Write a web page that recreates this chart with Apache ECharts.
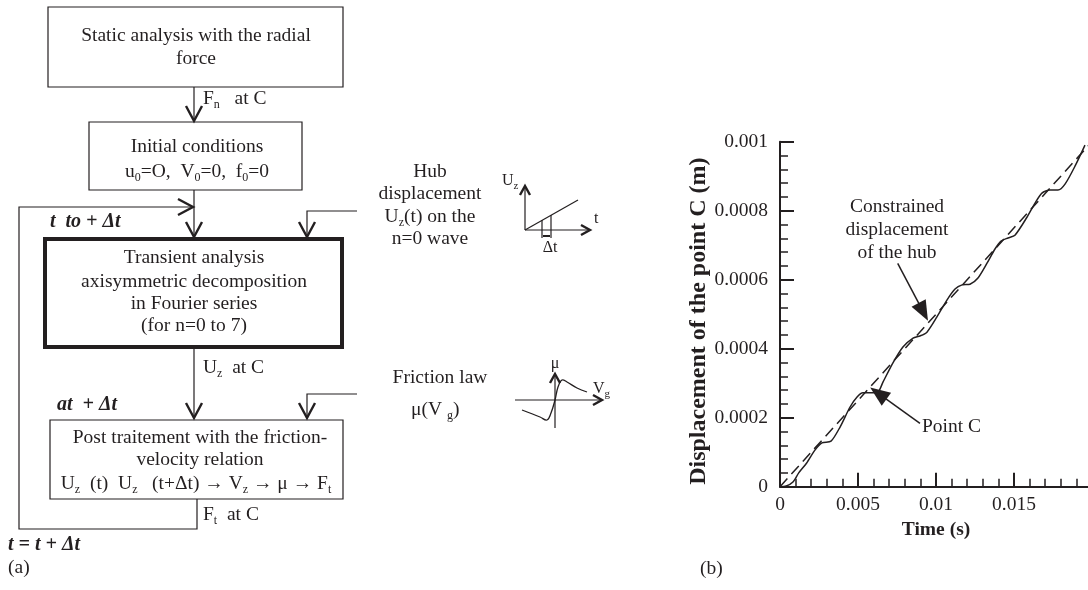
<!DOCTYPE html>
<html>
<head>
<meta charset="utf-8">
<script src="https://cdn.jsdelivr.net/npm/echarts@6/dist/echarts.min.js"></script>
<style>html,body{margin:0;padding:0;background:#fff}#c{width:1088px;height:590px}</style>
</head>
<body>
<div id="c"></div>
<script>
// ---- data (panel b) ----
const timeS = [0,0.0004,0.00083,0.0012,0.00171,0.00224,0.00269,0.00327,0.00385,0.00449,0.00494,0.00532,0.0059,0.00628,0.0066,0.00724,0.00788,0.00853,0.00897,0.00942,0.01006,0.0107,0.01122,0.01167,0.01218,0.01269,0.01327,0.01378,0.01417,0.01462,0.01506,0.01583,0.01635,0.01679,0.01731,0.01782,0.01827,0.01891,0.01955];
const pointC = [0,0.000002,0.0000136,0.00004,0.0000687,0.000106,0.000127,0.000132,0.000173,0.000231,0.00026,0.000272,0.000272,0.000274,0.000303,0.000359,0.000405,0.000431,0.000437,0.000448,0.000492,0.000541,0.000573,0.000585,0.000587,0.000605,0.000648,0.000689,0.000712,0.000721,0.000729,0.000781,0.000822,0.000851,0.00086,0.00086,0.000877,0.000929,0.00099];
const hubTime = [0, 0.02];
const hubDisp = [0, 0.001];
const xTickLabels = ['0', '0.005', '0.01', '0.015', ''];
const yTickLabels = ['0', '0.0002', '0.0004', '0.0006', '0.0008', '0.001'];

const SERIF = '"Liberation Serif", "Times New Roman", serif';
const INK = '#231f20';
const FS = 19.5;

const RICH = {
  sub: { fontFamily: SERIF, fontSize: 12, verticalAlign: 'bottom', lineHeight: 24, fill: INK },
  subs: { fontFamily: SERIF, fontSize: 11, verticalAlign: 'bottom', lineHeight: 21, fill: INK }
};

function txt(x, y, text, extra) {
  return { type: 'text', z: 10, style: Object.assign({
    x: x, y: y, text: text, fill: INK, fontFamily: SERIF, fontSize: FS,
    align: 'center', verticalAlign: 'middle', lineHeight: 24, rich: RICH
  }, extra || {}) };
}
function rect(x, y, w, h, lw) {
  return { type: 'rect', z: 5, shape: { x: x, y: y, width: w, height: h },
    style: { fill: 'none', stroke: INK, lineWidth: lw || 1.2 } };
}
function pline(pts, lw, smooth) {
  return { type: 'polyline', z: 6, shape: { points: pts, smooth: smooth || 0 },
    style: { fill: 'none', stroke: INK, lineWidth: lw || 1.2 } };
}
function chevron(x, y, dir, len, half) {
  len = len || 15; half = half || 8;
  let pts;
  if (dir === 'down') pts = [[x - half, y - len], [x, y], [x + half, y - len]];
  else if (dir === 'up') pts = [[x - half, y + len], [x, y], [x + half, y + len]];
  else pts = [[x - len, y - half], [x, y], [x - len, y + half]];
  return { type: 'polyline', z: 7, shape: { points: pts },
    style: { fill: 'none', stroke: INK, lineWidth: 2.4 } };
}
const BI = { align: 'left', fontWeight: 'bold', fontStyle: 'italic', fontSize: 20 };

const g = [];
// box 1
g.push(rect(48, 7, 295, 80));
g.push(txt(196, 36, 'Static analysis with the radial'));
g.push(txt(196, 59, 'force'));
g.push(pline([[194, 87], [194, 121]]));
g.push(chevron(194, 121, 'down'));
g.push(txt(203, 99, 'F{sub|n}   at C', { align: 'left' }));
// box 2
g.push(rect(89, 122, 213, 68));
g.push(txt(197, 147, 'Initial conditions'));
g.push(txt(197, 172, 'u{sub|0}=O,  V{sub|0}=0,  f{sub|0}=0'));
g.push(pline([[194, 190], [194, 237]]));
g.push(chevron(194, 237, 'down'));
// loop
g.push(pline([[197, 499], [197, 529], [19, 529], [19, 207], [193, 207]]));
g.push(chevron(193, 207, 'right'));
// hub input
g.push(pline([[357, 211], [307, 211], [307, 237]]));
g.push(chevron(307, 237, 'down'));
g.push(txt(50, 222, 't  to + \u0394t', BI));
// box 3
g.push(rect(45, 239, 297, 108, 4));
g.push(txt(194, 258, 'Transient analysis'));
g.push(txt(194, 282, 'axisymmetric decomposition'));
g.push(txt(194, 304, 'in Fourier series'));
g.push(txt(194, 326, '(for n=0 to 7)'));
g.push(pline([[194, 349], [194, 418]]));
g.push(chevron(194, 418, 'down'));
g.push(txt(203, 368, 'U{sub|z}  at C', { align: 'left' }));
g.push(txt(57, 405, 'at  + \u0394t', BI));
// friction input
g.push(pline([[357, 394], [307, 394], [307, 418]]));
g.push(chevron(307, 418, 'down'));
// box 4
g.push(rect(50, 420, 293, 79));
g.push(txt(200, 438, 'Post traitement with the friction-'));
g.push(txt(200, 460, 'velocity relation'));
g.push(txt(196, 484, 'U{sub|z}  (t)  U{sub|z}   (t+\u0394t) \u2192 V{sub|z} \u2192 \u03bc \u2192 F{sub|t}'));
g.push(txt(203, 515, 'F{sub|t}  at C', { align: 'left' }));
g.push(txt(8, 545, 't = t + \u0394t', BI));
g.push(txt(8, 568, '(a)', { align: 'left' }));
// hub displacement side text
g.push(txt(430, 172, 'Hub'));
g.push(txt(430, 194, 'displacement'));
g.push(txt(430, 217, 'U{sub|z}(t) on the'));
g.push(txt(430, 239, 'n=0 wave'));
// hub mini graph
g.push(pline([[525, 230], [525, 186]]));
g.push(chevron(525, 186, 'up', 9, 5));
g.push(pline([[525, 230], [590, 230]]));
g.push(chevron(590, 230, 'right', 9, 5));
g.push(pline([[525, 230], [578, 200]]));
g.push(pline([[542, 220], [542, 238]]));
g.push(pline([[551, 215], [551, 238]]));
g.push(pline([[543, 236], [550, 236]], 2));
g.push(txt(502, 181, 'U{subs|z}', { align: 'left', fontSize: 16, lineHeight: 21 }));
g.push(txt(594, 219, 't', { align: 'left', fontSize: 16 }));
g.push(txt(550, 248, '\u0394t', { fontSize: 16 }));
// friction law side text
g.push(txt(440, 378, 'Friction law'));
g.push(txt(411, 410, '\u03bc(V {sub|g})', { align: 'left' }));
// friction mini graph
g.push(pline([[515, 400], [602, 400]]));
g.push(chevron(602, 400, 'right', 9, 5));
g.push(pline([[555, 428], [555, 374]]));
g.push(chevron(555, 374, 'up', 9, 5));
g.push(pline([[522, 410], [540, 417], [547, 420], [551, 413], [555, 400], [558, 387], [562, 380], [567, 382], [577, 388], [587, 392]], 1.3, 0.4));
g.push(txt(555, 364, '\u03bc', { fontSize: 16 }));
g.push(txt(593, 389, 'V{subs|g}', { align: 'left', fontSize: 16, lineHeight: 21 }));
// panel b annotations
g.push(txt(897, 207, 'Constrained'));
g.push(txt(897, 230, 'displacement'));
g.push(txt(897, 253, 'of the hub'));
g.push(txt(922, 427, 'Point C', { align: 'left' }));
g.push(txt(700, 569, '(b)', { align: 'left' }));

const axisCommon = {
  type: 'value',
  axisLine: { show: true, lineStyle: { color: INK, width: 2 } },
  axisTick: { show: true, inside: true, length: 14, lineStyle: { color: INK, width: 2 } },
  minorTick: { show: true, splitNumber: 5, length: 8, lineStyle: { color: INK, width: 1.5 } },
  splitLine: { show: false },
  minorSplitLine: { show: false },
  nameLocation: 'middle'
};

const option = {
  animation: false,
  backgroundColor: '#fff',
  grid: { left: 780, top: 141.7, width: 312, bottom: 103.3, containLabel: false, outerBoundsMode: 'none' },
  xAxis: Object.assign({}, axisCommon, {
    min: 0, max: 0.02, interval: 0.005, name: 'Time (s)', nameGap: 31,
    nameTextStyle: { fontFamily: SERIF, fontWeight: 'bold', fontSize: 19.5, color: INK },
    axisLabel: { fontFamily: SERIF, fontSize: 19.5, color: INK, margin: 8,
      formatter: v => xTickLabels[Math.round(v / 0.005)] }
  }),
  yAxis: Object.assign({}, axisCommon, {
    min: 0, max: 0.001, interval: 0.0002, name: 'Displacement of the point C (m)', nameGap: 68,
    nameTextStyle: { fontFamily: SERIF, fontWeight: 'bold', fontSize: 24, color: INK, padding: [0, 14, 0, 0] },
    axisLabel: { fontFamily: SERIF, fontSize: 19.5, color: INK, margin: 12,
      formatter: v => yTickLabels[Math.round(v / 0.0002)] }
  }),
  series: [
    {
      name: 'Constrained displacement of the hub', type: 'line', symbol: 'none',
      data: hubTime.map((t, i) => [t, hubDisp[i]]),
      lineStyle: { color: INK, width: 1.5, type: [11, 6] },
      markLine: {
        silent: true, symbol: ['none', 'triangle'], symbolSize: [16, 20],
        label: { show: false },
        lineStyle: { color: INK, width: 1.5, type: 'solid' },
        data: [
          [{ coord: [0.007545, 0.0006475] }, { coord: [0.009186, 0.000507] }],
          [{ coord: [0.008974, 0.0001838] }, { coord: [0.006301, 0.0002707] }]
        ]
      }
    },
    {
      name: 'Point C', type: 'line', symbol: 'none', smooth: 0.25,
      data: timeS.map((t, i) => [t, pointC[i]]),
      lineStyle: { color: INK, width: 1.5 }
    }
  ],
  graphic: g
};

const chart = echarts.init(document.getElementById('c'), null, { renderer: 'canvas' });
chart.setOption(option);
</script>
</body>
</html>
